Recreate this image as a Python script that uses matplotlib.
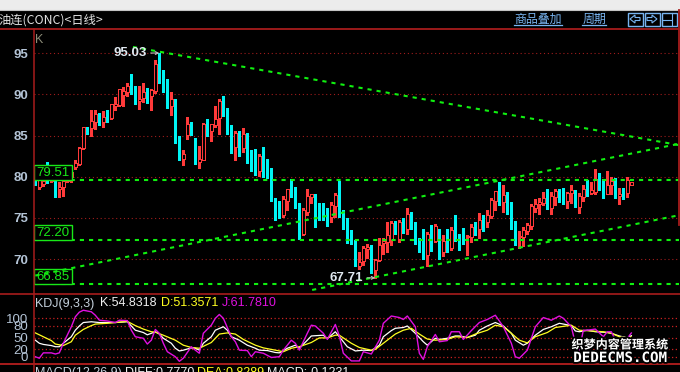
import matplotlib
matplotlib.use("Agg")
import matplotlib.pyplot as plt
import matplotlib.patheffects as pe
from matplotlib.patches import Rectangle, Polygon

plt.rcParams['font.family'] = ['Liberation Sans', 'DejaVu Sans']

# r = up candle, c = down candle
direction = ("crrcrcrrrr" "rrrcrrcrcr" "rrrrccrrcr" "rcccrccrrc" "crrcrrrccc"
             "rcrcccrccc" "ccrrcccrrr" "ccccrrcccc" "crrrcrrrrr" "crcrccccrc"
             "rcrcrcccrr" "crcrrrcrcc" "crrrrrrrcr" "rccrrcrrcr" "rccrrcrcrr")

body_top = [79.43, 79.55, 79.5, 80.5, 80.0, 79.43, 78.8, 79.45, 79.9, 80.6,
            81.7, 83.55, 86.0, 85.95, 86.75, 87.6, 87.5, 87.2, 87.35, 88.8,
            88.8, 90.65, 90.4, 91.0, 91.0, 90.65, 89.5, 90.25, 90.5, 90.5,
            93.7, 93.8, 91.75, 90.8, 89.4, 89.4, 84.45, 82.8, 86.4, 86.4,
            84.25, 82.2, 86.4, 86.4, 86.4, 87.05, 89.2, 89.05, 87.95, 86.15,
            85.3, 85.45, 85.15, 85.05, 82.6, 81.5, 82.5, 82.6, 81.1, 80.9,
            77.1, 75.65, 77.3, 78.5, 78.5, 78.1, 76.75, 76.0, 77.65, 77.85,
            77.75, 76.75, 76.4, 75.3, 76.55, 77.75, 77.75, 75.75, 74.6, 73.3,
            72.2, 69.65, 71.35, 71.45, 71.45, 69.9, 71.75, 72.2, 72.95, 74.35,
            74.2, 74.55, 74.0, 75.45, 75.35, 73.9, 72.15, 71.75, 73.05, 73.05,
            74.0, 73.55, 72.25, 72.25, 73.55, 73.0, 72.7, 72.7, 72.85, 73.95,
            74.0, 74.7, 74.7, 75.35, 77.15, 78.25, 78.85, 77.75, 77.85, 75.95,
            74.05, 72.85, 73.55, 74.15, 76.4, 76.65, 76.95, 77.45, 77.55, 77.65,
            78.25, 78.35, 78.25, 78.05, 78.35, 78.35, 77.65, 78.45, 78.45, 78.35,
            79.75, 80.15, 78.75, 79.05, 79.5, 79.45, 77.95, 78.1, 79.55, 79.3]

body_bot = [79.07, 78.8, 79.1, 79.5, 79.5, 78.5, 78.5, 78.75, 79.5, 80.0,
            81.2, 81.5, 83.5, 85.9, 85.95, 86.65, 86.6, 86.6, 87.3, 87.1,
            88.6, 88.7, 89.9, 90.3, 90.5, 89.1, 89.2, 89.6, 89.8, 89.85,
            90.45, 91.85, 90.7, 88.4, 88.6, 84.2, 82.5, 82.1, 85.1, 85.75,
            81.65, 81.75, 82.05, 85.5, 85.5, 86.25, 87.1, 88.2, 86.05, 83.6,
            83.6, 83.35, 83.5, 82.5, 81.25, 80.75, 80.65, 80.75, 80.7, 77.05,
            75.4, 75.4, 75.4, 77.1, 78.1, 76.55, 73.05, 73.05, 75.75, 77.55,
            76.65, 76.35, 75.05, 75.05, 75.05, 76.45, 75.45, 74.25, 73.15, 72.0,
            69.2, 69.2, 69.7, 71.2, 68.7, 68.7, 69.85, 71.9, 72.05, 72.35,
            73.75, 72.4, 73.4, 73.6, 73.75, 72.0, 71.25, 70.5, 70.5, 72.4,
            72.25, 70.9, 70.9, 71.2, 71.3, 72.7, 72.4, 72.0, 72.7, 72.7,
            73.4, 73.6, 74.4, 74.55, 75.25, 77.05, 76.95, 76.95, 75.6, 73.85,
            72.25, 72.7, 72.65, 73.35, 74.0, 76.25, 76.65, 76.75, 76.15, 76.15,
            77.55, 78.15, 77.15, 77.05, 78.05, 76.45, 76.35, 77.55, 78.05, 78.05,
            78.15, 78.55, 78.05, 77.95, 78.95, 77.75, 77.65, 77.85, 78.05, 79.05]

wick_hi = [79.5, 79.6, 79.6, 81.75, 80.2, 79.5, 79.3, 79.95, 80.0, 80.7,
           82.0, 83.6, 86.05, 86.1, 88.1, 88.1, 87.75, 88.0, 88.1, 88.85,
           89.7, 90.7, 90.85, 91.35, 92.5, 91.0, 91.0, 91.4, 90.8, 90.7,
           94.2, 95.03, 92.95, 91.9, 90.3, 89.5, 84.9, 83.2, 87.2, 86.7,
           84.65, 83.7, 86.5, 87.0, 86.45, 88.6, 89.5, 89.8, 88.3, 86.25,
           85.5, 85.5, 85.95, 85.3, 83.3, 83.4, 82.8, 83.6, 82.2, 81.0,
           77.45, 77.1, 77.7, 78.55, 79.75, 78.75, 76.8, 76.15, 78.45, 77.9,
           77.95, 76.8, 76.75, 76.25, 76.95, 78.05, 79.45, 75.95, 75.0, 73.55,
           72.35, 70.9, 71.6, 71.85, 71.75, 69.95, 72.55, 72.55, 74.5, 74.65,
           74.6, 74.75, 75.0, 76.2, 75.75, 74.55, 72.55, 73.6, 73.3, 74.15,
           74.25, 73.6, 72.95, 73.6, 73.95, 75.35, 73.1, 73.75, 72.95, 74.25,
           74.55, 75.55, 75.35, 75.95, 77.45, 78.3, 79.35, 78.95, 78.15, 76.9,
           74.65, 73.35, 73.9, 74.35, 76.65, 77.25, 77.45, 78.15, 78.45, 78.15,
           78.55, 78.55, 78.65, 78.15, 78.95, 78.4, 78.05, 78.95, 79.55, 79.35,
           80.9, 80.45, 79.75, 80.65, 79.95, 79.9, 78.65, 78.65, 79.95, 79.35]

wick_lo = [79.0, 78.5, 78.85, 79.2, 79.3, 77.5, 77.5, 77.7, 79.4, 79.3,
           80.9, 81.4, 83.4, 85.15, 84.95, 85.75, 86.25, 86.0, 86.65, 87.05,
           88.15, 88.6, 88.6, 89.8, 90.1, 88.8, 88.2, 89.1, 89.0, 88.1,
           90.2, 91.35, 90.3, 88.3, 87.5, 84.1, 82.0, 81.4, 84.55, 85.05,
           81.5, 81.1, 82.0, 84.9, 84.3, 86.0, 85.25, 87.35, 85.15, 82.9,
           82.0, 82.5, 83.0, 81.65, 80.65, 80.15, 80.05, 79.95, 79.9, 77.0,
           74.8, 75.0, 75.15, 75.95, 77.55, 76.2, 72.4, 72.95, 75.4, 76.75,
           73.85, 74.75, 74.8, 74.05, 74.55, 75.15, 75.15, 73.6, 72.0, 71.85,
           69.1, 68.8, 69.3, 70.1, 68.25, 67.71, 69.7, 70.65, 70.8, 71.75,
           73.1, 72.1, 73.2, 73.05, 73.6, 71.85, 70.9, 70.0, 69.1, 71.0,
           72.1, 70.05, 70.4, 70.9, 71.1, 72.25, 71.1, 71.85, 70.5, 72.1,
           72.95, 72.55, 73.35, 73.95, 74.95, 75.95, 76.55, 75.75, 75.45, 73.6,
           71.75, 71.35, 71.6, 73.05, 73.6, 75.75, 75.45, 76.55, 76.05, 75.45,
           76.55, 76.95, 76.65, 76.15, 76.75, 76.35, 75.55, 77.05, 77.65, 77.85,
           77.95, 78.35, 77.45, 77.85, 77.85, 77.45, 76.65, 77.25, 77.55, 79.05]

price_ticks = [70, 75, 80, 85, 90, 95]
level_prices = [79.6, 72.3, 66.95]
level_labels = ["79.51", "72.20", "66.85"]

trend_a_x = [24.4, 160.7]
trend_a_y = [95.77, 83.86]
trend_b_x = [0, 160.7]
trend_b_y = [67.99, 83.98]
trend_c_x = [69.2, 160.4]
trend_c_y = [66.24, 75.27]

kdj_ticks = [0, 20, 50, 80, 100]

j_x = [0, 1, 2, 4, 5, 6, 7, 9, 10, 11, 12, 14, 15, 16, 18, 20, 21, 23, 24, 25, 27, 28, 29, 30, 31, 32, 33, 35, 36, 37,
       39, 40, 41, 42, 44, 45, 46, 47, 49, 50, 51, 53, 54, 55, 57, 59, 61, 62, 64, 65, 66, 68, 69, 70, 72, 73, 75, 76,
       77, 79, 81, 82, 84, 86, 87, 89, 91, 92, 93, 95, 96, 97, 98, 100, 101, 103, 104, 106, 107, 109, 111, 113, 115,
       117, 119, 120, 121, 123, 125, 127, 129, 131, 132, 134, 135, 136, 137, 138, 140, 142, 143, 144, 145, 146, 148, 149]
j_y = [0, -4, 10, 10, 7, 10, 35, 78, 104, 116, 121, 117, 108, 95, 93, 89, 95, 94, 69, 52, 48, 33, 43, 71, 61, 35, 13, 0, -12, -4,
       26, 17, 9, 61, 82, 100, 110, 100, 52, 39, 17, 16, 0, 13, 9, -2, 0, 17, 43, 35, 17, 61, 82, 80, 61, 45, 84, 54,
       9, -11, -11, 13, 7, 43, 87, 106, 102, 97, 106, 78, 9, -7, 26, 58, 39, 42, 65, 65, 45, 68, 89, 97, 108,
       78, 35, 0, -4, 17, 78, 102, 95, 106, 100, 78, 35, 17, 69, 69, 72, 52, 65, 65, 43, 45, 48, 61.78]

k_x = [0, 1, 2, 4, 5, 6, 7, 9, 10, 11, 12, 14, 16, 20, 23, 24, 25, 27, 28, 30, 31, 32, 34, 35, 36, 37, 39, 40, 41, 42,
       44, 45, 47, 48, 49, 51, 53, 55, 56, 58, 60, 61, 63, 65, 66, 68, 69, 72, 73, 75, 76, 78, 80, 82, 84, 86, 87, 89,
       90, 92, 93, 95, 97, 98, 100, 101, 103, 105, 106, 108, 110, 111, 113, 115, 117, 119, 120, 122, 123, 125, 127,
       129, 131, 134, 135, 136, 138, 140, 143, 144, 146, 148, 149]
k_y = [43, 35, 32, 29, 26, 26, 35, 52, 69, 80, 89, 91, 89, 89, 91, 80, 69, 63, 57, 65, 59, 48, 35, 22, 15, 17, 23, 22, 17, 35,
       52, 69, 78, 69, 52, 43, 30, 22, 17, 16, 11, 10, 22, 30, 22, 43, 54, 56, 47, 65, 52, 26, 15, 17, 16, 30, 52, 68,
       74, 76, 80, 61, 39, 30, 48, 45, 48, 54, 54, 50, 56, 69, 80, 89, 80, 61, 43, 30, 35, 56, 71,
       78, 87, 81, 67, 65, 69, 65, 63, 61, 54, 49, 54.83]

d_x = [0, 2, 4, 5, 7, 9, 10, 12, 14, 15, 18, 20, 23, 25, 27, 29, 30, 32, 35, 37, 39, 41, 44, 46, 48, 50, 52, 55, 57, 60,
       62, 64, 66, 69, 71, 73, 75, 76, 79, 81, 84, 85, 87, 90, 92, 94, 96, 98, 100, 103, 105, 108, 110, 113, 115, 117,
       119, 121, 123, 125, 128, 130, 134, 136, 139, 142, 144, 146, 148, 149]
d_y = [62, 52, 42, 33, 29, 39, 56, 71, 81, 85, 87, 89, 92, 81, 72, 65, 64, 56, 43, 30, 24, 22, 37, 59, 62, 59, 45, 30, 23, 17,
       13, 22, 26, 37, 49, 49, 56, 56, 35, 24, 17, 19, 35, 59, 69, 74, 59, 46, 43, 45, 52, 50, 59, 69, 82, 78,
       61, 43, 36, 52, 63, 76, 82, 69, 67, 65, 61, 52, 49, 51.36]

RED = "#ff3a3a"
CYAN = "#00f4f4"
GREEN = "#10f010"
FRAME = "#a81c1c"
TICK = "#b4c4d6"
W, H = 680, 372


def px_axes(left, top, right, bottom):
    return fig.add_axes([left / W, (H - bottom) / H, (right - left) / W, (bottom - top) / H])


fig = plt.figure(figsize=(W / 100, H / 100), dpi=100, facecolor="black")

# chart panes share one index scale: 4 px per candle, first candle at x=35.33
xlim = ((33.5 - 35.33) / 4, (678.5 - 35.33) / 4)

ax = px_axes(33.5, 29.5, 678.5, 293.5)
ax.set_facecolor("black")
ax.set_xlim(xlim)
ax.set_ylim(65.81, 97.89)
ax.set_xticks([])
ax.set_yticks(price_ticks)
ax.set_yticklabels([str(t) for t in price_ticks], fontsize=9.5, fontweight="bold", color=TICK)
ax.tick_params(axis="y", length=0, pad=4)
ax.yaxis.grid(True, color="#a01c1c", lw=0.8, ls=(0, (1, 2.5)))
ax.set_axisbelow(True)
for s in ax.spines.values():
    s.set_visible(False)

xs = list(range(len(direction)))
up = [d == "r" for d in direction]
wick_colors = [RED if u else CYAN for u in up]
ax.vlines(xs, wick_lo, wick_hi, colors=wick_colors, lw=0.75, zorder=2, antialiased=False)
for x, top, bot, u in zip(xs, body_top, body_bot, up):
    h = max(top - bot, 0.12)
    if u:
        ax.bar(x, h, bottom=bot, width=0.72, facecolor="black", edgecolor=RED, lw=0.72, zorder=3, antialiased=False)
    else:
        ax.bar(x, h, bottom=bot, width=0.85, facecolor=CYAN, edgecolor=CYAN, lw=0, zorder=3, antialiased=False)

dash = dict(color=GREEN, lw=1.5, ls=(0, (2.0, 2.4)), zorder=4)
for lvl in level_prices:
    ax.axhline(lvl, **dash)

# value boxes sit on their level line and hide the candles behind them
for lvl, lab in zip(level_prices, level_labels):
    ax.add_patch(Rectangle((-0.45, lvl), 9.6, 1.88, facecolor="black", edgecolor="#18e818", lw=1, zorder=5))
    ax.text(4.35, lvl + 0.9, lab, color="#18e818", fontsize=9.5, ha="center", va="center", zorder=6)

ax.plot(trend_a_x, trend_a_y, **dash)
ax.plot(trend_b_x, trend_b_y, color=GREEN, lw=1.5, ls=(0, (2.0, 2.4)), zorder=7)
ax.plot(trend_c_x, trend_c_y, **dash)

ax.annotate("95.03", xy=(31, 95.03), xytext=(27.8, 95.03), color="#e0e8f0", fontsize=9.5, fontweight="bold",
            ha="right", va="center", zorder=8,
            arrowprops=dict(arrowstyle="->", color="#c0c0c0", lw=0.8, shrinkA=1, shrinkB=0, mutation_scale=5))
ax.annotate("67.71", xy=(85, 67.71), xytext=(81.9, 67.71), color="#e0e8f0", fontsize=9.5, fontweight="bold",
            ha="right", va="center", zorder=8,
            arrowprops=dict(arrowstyle="->", color="#c0c0c0", lw=0.8, shrinkA=1, shrinkB=0, mutation_scale=5))

kx = px_axes(33.5, 293.5, 678.5, 364)
kx.set_facecolor("black")
kx.set_xlim(xlim)
kx.set_ylim(-19, 164.6)
kx.set_xticks([])
kx.set_yticks(kdj_ticks)
kx.set_yticklabels([str(t) for t in kdj_ticks], fontsize=9.5, color=TICK)
kx.tick_params(axis="y", length=0, pad=4)
kx.yaxis.grid(True, color="#c82020", lw=0.9, ls=(0, (1, 2)))
kx.set_axisbelow(True)
for s in kx.spines.values():
    s.set_visible(False)
kx.plot(k_x, k_y, color="white", lw=0.9, zorder=3)
kx.plot(d_x, d_y, color="#ffff20", lw=0.9, zorder=4)
kx.plot(j_x, j_y, color="#e010e0", lw=1.0, zorder=5)

# window chrome and header texts, in pixel coordinates
ov = fig.add_axes([0, 0, 1, 1], zorder=10)
ov.set_xlim(0, W)
ov.set_ylim(H, 0)
ov.axis("off")
ov.patch.set_alpha(0)

ov.add_patch(Rectangle((0, 0), W, 9.5, facecolor="#ececec", edgecolor="none"))
ov.plot([0, W], [9.8, 9.8], color="#c4c4c4", lw=0.8)
ov.plot([0, 680], [29.2, 29.2], color=FRAME, lw=1.3)
ov.plot([0, 680], [293.5, 293.5], color=FRAME, lw=1.2)
ov.plot([0, 680], [364, 364], color=FRAME, lw=1.4)
ov.plot([33.5, 33.5], [29.2, 372], color=FRAME, lw=1.1)
ov.plot([678.8, 678.8], [10, 225], color=FRAME, lw=1.3)

cjk = ['Noto Sans CJK SC', 'DejaVu Sans']
ov.text(-2, 20.5, "油连(CONC)<日线>", color="#e4e4e4", fontsize=8.8, family=cjk, va="center", ha="left")
ov.text(35, 40, "K", color="#8c8c78", fontsize=9, va="center", ha="left")

BLUE = "#78b4f0"
ov.text(538, 19.5, "商品叠加", color=BLUE, fontsize=8.6, family=cjk, ha="center", va="center")
ov.plot([514, 562], [25.3, 25.3], color=BLUE, lw=0.9)
ov.text(594, 19.5, "周期", color=BLUE, fontsize=8.6, family=cjk, ha="center", va="center")
ov.plot([582, 606], [25.3, 25.3], color=BLUE, lw=0.9)

for bx in (627.5, 644.5, 661.5):
    ov.add_patch(Rectangle((bx, 12.5), 15, 13, facecolor="none", edgecolor=BLUE, lw=1))
ov.add_patch(Polygon([(630, 19), (635, 15), (635, 17.5), (640, 17.5), (640, 20.5), (635, 20.5), (635, 23)],
                     closed=True, facecolor="none", edgecolor=BLUE, lw=0.8))
ov.add_patch(Polygon([(657, 19), (652, 15), (652, 17.5), (647, 17.5), (647, 20.5), (652, 20.5), (652, 23)],
                     closed=True, facecolor="none", edgecolor=BLUE, lw=0.8))
ov.plot([661.5, 672], [20, 20], color=BLUE, lw=0.8)
ov.plot([672, 672], [12.5, 25.5], color=BLUE, lw=0.8)

ov.text(35, 303.5, "KDJ(9,3,3)", color="#c4d0dc", fontsize=9, va="center")
ov.text(100, 303.5, "K:54.8318", color="#f0f0f0", fontsize=9, va="center")
ov.text(160.5, 303.5, "D:51.3571", color="#ffff20", fontsize=9, va="center")
ov.text(222, 303.5, "J:61.7810", color="#e010e0", fontsize=9, va="center")

ov.text(35, 367, "MACD(12,26,9)", color="#c4d0dc", fontsize=9, va="top")
ov.text(125, 367, "DIFF:0.7770", color="#f0f0f0", fontsize=9, va="top")
ov.text(197, 367, "DEA:0.8289", color="#ffff20", fontsize=9, va="top")
ov.text(267, 367, "MACD:-0.1231", color="#f0f0f0", fontsize=9, va="top")

halo = [pe.withStroke(linewidth=2.5, foreground="black")]
ov.text(620, 345, "织梦内容管理系统", color="white", fontsize=8.7, fontweight="bold", family=cjk,
        ha="center", va="center", path_effects=halo)
ov.text(620, 358, "DEDECMS.COM", color="white", fontsize=10.2, fontweight="bold", family="DejaVu Sans Mono",
        ha="center", va="center", path_effects=halo)

fig.savefig("out.png", dpi=100, facecolor="black")
